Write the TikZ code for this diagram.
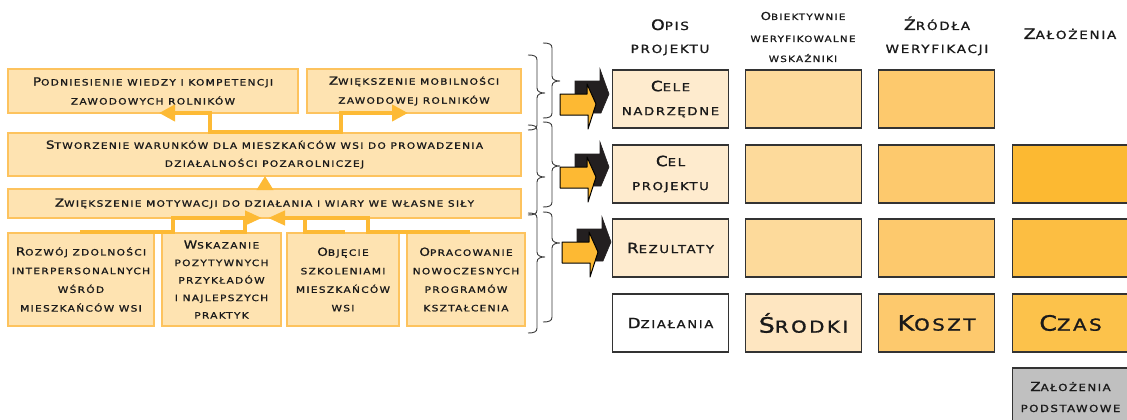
\documentclass[tikz,border=0pt]{standalone}
\usepackage{fontspec}
\usepackage{graphicx}
\usetikzlibrary{arrows.meta}
\newfontfamily\cg[FakeStretch=1.2,LetterSpace=15,FakeBold=1.2]{DejaVu Sans}
\newcommand\F[1]{\scalebox{1.28}{#1}}
\definecolor{lfill}{HTML}{FEE3B1}
\definecolor{lbord}{HTML}{FDC35E}
\definecolor{conc}{HTML}{FDBA35}
\definecolor{txt}{HTML}{1A1A1A}
\definecolor{tbord}{HTML}{333333}
\definecolor{cA}{HTML}{FEEBCE}
\definecolor{cB}{HTML}{FDDA9B}
\definecolor{cBl}{HTML}{FEE6C1}
\definecolor{cC}{HTML}{FDC96D}
\definecolor{cD2}{HTML}{FCB932}
\definecolor{cD3}{HTML}{FCBE42}
\definecolor{cD4}{HTML}{FCC24B}
\definecolor{gr}{HTML}{C0C0C0}
\definecolor{arrY}{HTML}{FDB933}
\definecolor{arrK}{HTML}{231F20}
\definecolor{brcol}{HTML}{3A3A3A}
\newcommand\Brc[6]{% hook x, spine x, tip x, ytop, ytip, ybot
  \draw[brc] (#1,#4) .. controls (#2-3,#4) and (#2,#4+1) .. (#2,#4+5)
    -- (#2,#5-5) .. controls (#2,#5-1) and (#3-4,#5) .. (#3,#5)
    .. controls (#3-4,#5) and (#2,#5+1) .. (#2,#5+5)
    -- (#2,#6-5) .. controls (#2,#6-1) and (#2-3,#6) .. (#1,#6);}
\begin{document}
\begin{tikzpicture}[x=1pt,y=-1pt,
  lbox/.style={draw=lbord, fill=lfill, line width=2pt, inner sep=0pt, align=center, text=txt},
  lfont/.style={font={\cg\fontsize{8.8}{19}\selectfont}},
  tbox/.style={draw=tbord, line width=1.3pt, inner sep=0pt, align=center, text=txt,
    minimum width=116pt, minimum height=58pt, font={\cg\fontsize{11}{24}\selectfont}},
  bigtxt/.style={font={\cg\fontsize{16.5}{20}\selectfont}},
  hdr/.style={anchor=base, inner sep=0pt, text=txt, font={\cg\fontsize{11.3}{13}\selectfont}},
  hdrs/.style={anchor=base, inner sep=0pt, text=txt, font={\cg\fontsize{8.6}{10}\selectfont}},
  conn/.style={draw=conc, line width=4pt},
  tri/.tip={Triangle[length=16pt,width=16pt]},
  brc/.style={draw=brcol, line width=0.9pt},
  ay/.style={fill=arrY, draw=black, line width=1pt, line join=round},
  ak/.style={fill=arrK, draw=arrK, line width=0.6pt}]
\useasboundingbox (0,0) rectangle (1127,420);
\clip (0,0) rectangle (1127,420);

% left boxes
\node[lbox, lfont, minimum width=290pt, minimum height=44pt] (b1) at (153,91)
  {\F{P}ODNIESIENIE WIEDZY I KOMPETENCJI\\ZAWODOWYCH ROLNIKÓW};
\node[lbox, lfont, minimum width=214pt, minimum height=44pt] (b2) at (414,91)
  {\F{Z}WIĘKSZENIE MOBILNOŚCI\\ZAWODOWEJ ROLNIKÓW};
\node[lbox, font={\cg\fontsize{8.8}{18}\selectfont}, minimum width=513pt, minimum height=43pt] (b3) at (264.5,154.5)
  {\F{S}TWORZENIE WARUNKÓW DLA MIESZKAŃCÓW WSI DO PROWADZENIA\\DZIAŁALNOŚCI POZAROLNICZEJ};
\node[lbox, lfont, minimum width=513pt, minimum height=29pt] (b4) at (264.5,203.5)
  {\F{Z}WIĘKSZENIE MOTYWACJI DO DZIAŁANIA I WIARY WE WŁASNE SIŁY};
\node[lbox, font={\cg\fontsize{8.8}{18.7}\selectfont}, minimum width=146pt, minimum height=93pt] (b5) at (81,279.5)
  {\F{R}OZWÓJ ZDOLNOŚCI\\INTERPERSONALNYCH\\WŚRÓD\\MIESZKAŃCÓW WSI};
\node[lbox, font={\cg\fontsize{8.8}{17.5}\selectfont}, minimum width=119pt, minimum height=93pt] (b6) at (221.5,279.5)
  {\F{W}SKAZANIE\\POZYTYWNYCH\\PRZYKŁADÓW\\I NAJLEPSZYCH\\PRAKTYK};
\node[lbox, font={\cg\fontsize{8.8}{18.5}\selectfont}, minimum width=112pt, minimum height=93pt] (b7) at (343,279.5)
  {\F{O}BJĘCIE\\SZKOLENIAMI\\MIESZKAŃCÓW\\WSI};
\node[lbox, font={\cg\fontsize{8.8}{18.5}\selectfont}, minimum width=118pt, minimum height=93pt] (b8) at (466,279.5)
  {\F{O}PRACOWANIE\\NOWOCZESNYCH\\PROGRAMÓW\\KSZTAŁCENIA};

% connectors
\coordinate (t1) at (159,113);
\coordinate (t2) at (408,113);
\draw[conn, tri-tri] (t1) -- (210,113) -- (210,132) -- (341,132) -- (341,113) -- (t2);
\coordinate (u0) at (265,190);
\coordinate (u1) at (265,176);
\draw[conn, -{Triangle[length=14pt,width=16pt]}] (u0) -- (u1);
\coordinate (la) at (262,218);
\coordinate (ra) at (268,218);
\draw[conn, -{Triangle[length=17pt,width=14pt]}] (80,232) -- (173,232) -- (173,218) -- (la);
\draw[conn] (220,232) -- (245,232) -- (245,218);
\draw[conn, -{Triangle[length=17pt,width=14pt]}] (470,232) -- (368,232) -- (368,218) -- (ra);
\draw[conn] (345,232) -- (305,232) -- (305,218);

% braces
\Brc{543}{552}{560}{43}{81}{118}
\Brc{543}{552}{560}{122}{166}{207}
\Brc{543}{552}{560}{212}{243}{322}
\Brc{528}{537}{545}{55}{93}{130}
\Brc{528}{537}{545}{125}{177}{215}
\Brc{528}{537}{545}{213}{257}{333}

% big arrows
\foreach \dx/\dy in {0/0, 0/73, 2/148} {
  \begin{scope}[shift={(\dx,\dy)}]
    \filldraw[ak] (575,81) -- (600,81) -- (600,69) -- (609,94) -- (601,113) -- (575,113) -- cycle;
    \filldraw[ay] (560,94) -- (587,94) -- (587,84) -- (596,104) -- (588,129) -- (588,115) -- (560,115) -- cycle;
  \end{scope}
}

% headers
\node[hdr] (h1a) at (670,30) {\F{O}PIS};
\node[hdr] (h1b) at (670,53) {PROJEKTU};
\node[hdrs] (h2a) at (803,20) {\F{O}BIEKTYWNIE};
\node[hdrs] (h2b) at (803,42) {WERYFIKOWALNE};
\node[hdrs] (h2c) at (803,62) {WSKAŹNIKI};
\node[hdr] (h3a) at (937,30) {\F{Ź}RÓDŁA};
\node[hdr] (h3b) at (937,53) {WERYFIKACJI};
\node[hdr] (h4) at (1070,39) {\F{Z}AŁOŻENIA};

% table
\node[tbox, fill=cA] (r1c1) at (670.5,99) {\F{C}ELE\\NADRZĘDNE};
\node[tbox, fill=cB] (r1c2) at (803.5,99) {};
\node[tbox, fill=cC] (r1c3) at (936.5,99) {};
\node[tbox, fill=cA] (r2c1) at (670.5,174) {\F{C}EL\\PROJEKTU};
\node[tbox, fill=cB] (r2c2) at (803.5,174) {};
\node[tbox, fill=cC] (r2c3) at (936.5,174) {};
\node[tbox, fill=cD2] (r2c4) at (1070.5,174) {};
\node[tbox, fill=cA] (r3c1) at (670.5,248) {\F{R}EZULTATY};
\node[tbox, fill=cB] (r3c2) at (803.5,248) {};
\node[tbox, fill=cC] (r3c3) at (936.5,248) {};
\node[tbox, fill=cD3] (r3c4) at (1070.5,248) {};
\node[tbox, fill=white] (r4c1) at (670.5,323) {\F{D}ZIAŁANIA};
\node[tbox, bigtxt, fill=cBl] (r4c2) at (803.5,323) {\F{Ś}RODKI};
\node[tbox, bigtxt, fill=cC] (r4c3) at (936.5,323) {\F{K}OSZT};
\node[tbox, bigtxt, fill=cD4] (r4c4) at (1070.5,323) {\F{C}ZAS};
\node[tbox, fill=gr, font={\cg\fontsize{9.8}{21}\selectfont}] (r5c4) at (1070.5,397) {\F{Z}AŁOŻENIA\\PODSTAWOWE};
\end{tikzpicture}
\end{document}
